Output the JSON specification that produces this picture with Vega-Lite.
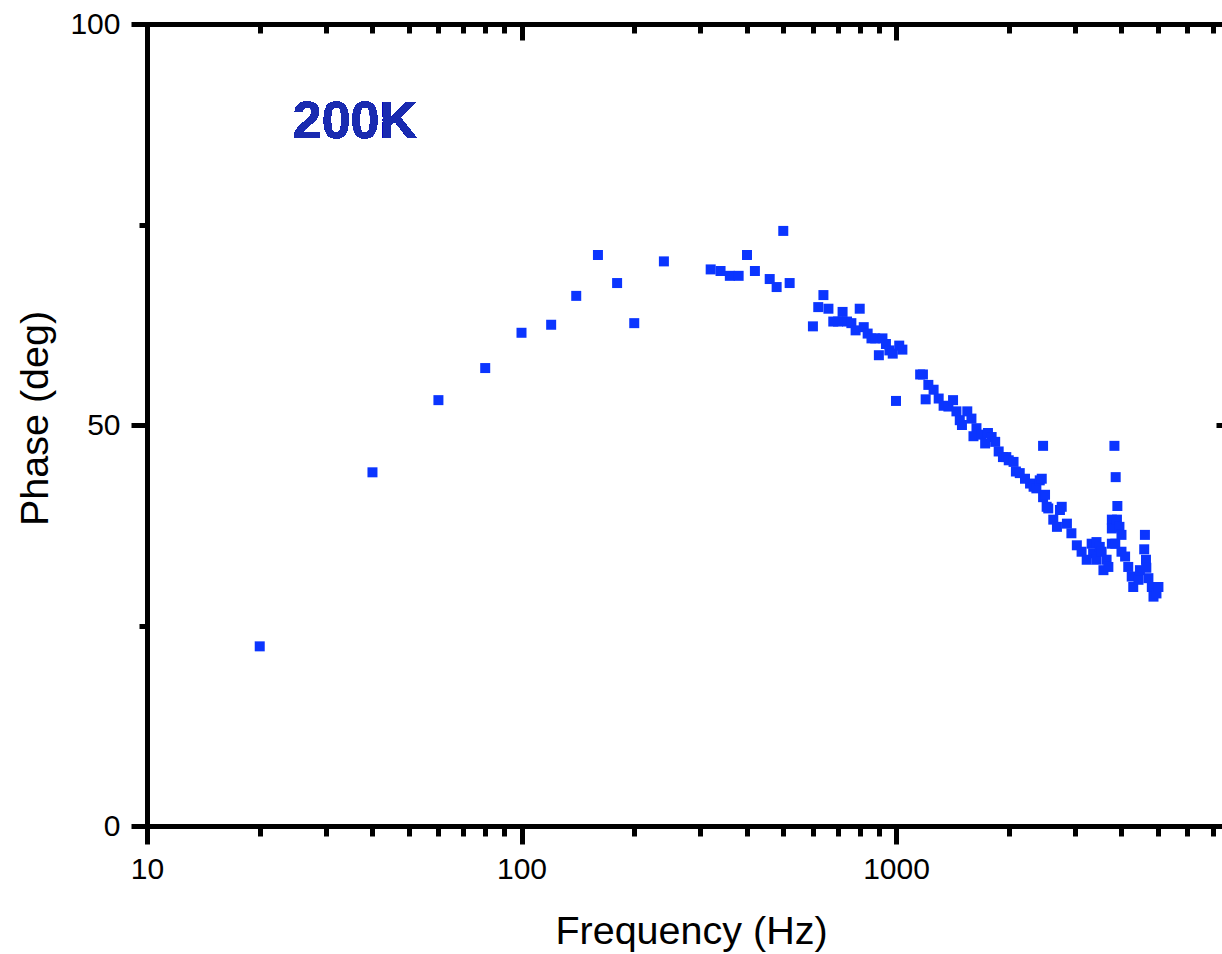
{
  "$schema": "https://vega.github.io/schema/vega-lite/v6.json",
  "autosize": {"type": "none"},
  "padding": {"left": 147, "top": 24, "right": 0, "bottom": 128},
  "width": 1075,
  "height": 802,
  "background": "white",
  "config": {"view": {"stroke": null}, "font": "Liberation Sans"},
  "data": {"values": [
    {"f": 20, "p": 22.4}, {"f": 40, "p": 44.1}, {"f": 60, "p": 53.1}, {"f": 80, "p": 57.1},
    {"f": 100, "p": 61.5}, {"f": 120, "p": 62.5}, {"f": 140, "p": 66.1}, {"f": 160, "p": 71.2},
    {"f": 180, "p": 67.7}, {"f": 200, "p": 62.7}, {"f": 240, "p": 70.4}, {"f": 320, "p": 69.4},
    {"f": 340, "p": 69.2}, {"f": 360, "p": 68.6}, {"f": 380, "p": 68.6}, {"f": 400, "p": 71.2},
    {"f": 420, "p": 69.2}, {"f": 460, "p": 68.2}, {"f": 480, "p": 67.2}, {"f": 500, "p": 74.2},
    {"f": 520, "p": 67.7}, {"f": 600, "p": 62.3}, {"f": 620, "p": 64.7}, {"f": 640, "p": 66.2},
    {"f": 660, "p": 64.5}, {"f": 680, "p": 62.9}, {"f": 700, "p": 62.9}, {"f": 720, "p": 64.1},
    {"f": 740, "p": 62.9}, {"f": 760, "p": 62.7}, {"f": 780, "p": 61.8}, {"f": 800, "p": 64.5},
    {"f": 820, "p": 62.2}, {"f": 840, "p": 61.4}, {"f": 860, "p": 60.8}, {"f": 880, "p": 60.8},
    {"f": 900, "p": 58.7}, {"f": 920, "p": 60.8}, {"f": 940, "p": 60.1}, {"f": 960, "p": 59.3},
    {"f": 980, "p": 58.9}, {"f": 1000, "p": 53.0}, {"f": 1020, "p": 59.9}, {"f": 1040, "p": 59.4},
    {"f": 1160, "p": 56.3}, {"f": 1180, "p": 56.3}, {"f": 1200, "p": 53.2}, {"f": 1220, "p": 55.0},
    {"f": 1260, "p": 54.4}, {"f": 1300, "p": 53.3}, {"f": 1340, "p": 52.4}, {"f": 1380, "p": 52.3},
    {"f": 1420, "p": 53.1}, {"f": 1450, "p": 51.7}, {"f": 1480, "p": 50.6}, {"f": 1500, "p": 50.0},
    {"f": 1550, "p": 51.7}, {"f": 1590, "p": 50.8}, {"f": 1610, "p": 48.6}, {"f": 1640, "p": 49.6},
    {"f": 1690, "p": 48.8}, {"f": 1730, "p": 47.7}, {"f": 1760, "p": 49.0}, {"f": 1800, "p": 48.5},
    {"f": 1840, "p": 47.9}, {"f": 1880, "p": 46.7}, {"f": 1930, "p": 46.0}, {"f": 1970, "p": 46.0},
    {"f": 2000, "p": 45.6}, {"f": 2060, "p": 45.4}, {"f": 2090, "p": 44.2}, {"f": 2140, "p": 44.0},
    {"f": 2210, "p": 43.3}, {"f": 2280, "p": 42.7}, {"f": 2330, "p": 42.3}, {"f": 2370, "p": 42.1},
    {"f": 2420, "p": 43.1}, {"f": 2450, "p": 43.3}, {"f": 2470, "p": 47.4}, {"f": 2470, "p": 41.0},
    {"f": 2500, "p": 41.3}, {"f": 2525, "p": 39.8}, {"f": 2550, "p": 39.6}, {"f": 2630, "p": 38.2},
    {"f": 2690, "p": 37.3}, {"f": 2740, "p": 39.4}, {"f": 2770, "p": 39.8}, {"f": 2860, "p": 37.7},
    {"f": 2940, "p": 36.5}, {"f": 3040, "p": 35.0}, {"f": 3130, "p": 34.2}, {"f": 3230, "p": 33.2},
    {"f": 3330, "p": 35.2}, {"f": 3360, "p": 34.0}, {"f": 3430, "p": 35.4}, {"f": 3430, "p": 33.2},
    {"f": 3500, "p": 34.8}, {"f": 3540, "p": 34.2}, {"f": 3580, "p": 31.9}, {"f": 3650, "p": 33.2},
    {"f": 3690, "p": 32.3}, {"f": 3770, "p": 38.2}, {"f": 3770, "p": 37.1}, {"f": 3770, "p": 35.2},
    {"f": 3830, "p": 47.4}, {"f": 3850, "p": 35.2}, {"f": 3860, "p": 43.5}, {"f": 3890, "p": 38.2},
    {"f": 3900, "p": 39.9}, {"f": 3950, "p": 37.3}, {"f": 4000, "p": 36.3}, {"f": 4000, "p": 34.2},
    {"f": 4090, "p": 33.6}, {"f": 4170, "p": 32.3}, {"f": 4260, "p": 31.1}, {"f": 4300, "p": 29.8},
    {"f": 4440, "p": 30.7}, {"f": 4480, "p": 31.9}, {"f": 4600, "p": 34.5}, {"f": 4620, "p": 36.3},
    {"f": 4650, "p": 33.2}, {"f": 4660, "p": 32.2}, {"f": 4720, "p": 30.9}, {"f": 4820, "p": 29.8},
    {"f": 4870, "p": 28.6}, {"f": 4960, "p": 29.0}, {"f": 5020, "p": 29.8}
  ]},
  "resolve": {"axis": {"x": "independent", "y": "independent"}},
  "layer": [
    {
      "mark": {"type": "point", "shape": "square", "filled": true, "size": 100, "color": "#0b35ff", "opacity": 1, "strokeWidth": 0},
      "encoding": {
        "x": {
          "field": "f", "type": "quantitative",
          "scale": {"type": "log", "domain": [10, 7421], "nice": false, "zero": false},
          "axis": {
            "orient": "bottom",
            "title": "Frequency (Hz)",
            "values": [10, 20, 30, 40, 50, 60, 70, 80, 90, 100, 200, 300, 400, 500, 600, 700, 800, 900, 1000, 2000, 3000, 4000, 5000, 6000, 7000],
            "format": "d",
            "labelExpr": "(datum.value == 10 || datum.value == 100 || datum.value == 1000) ? datum.label : ''",
            "grid": false,
            "domainColor": "black", "domainWidth": 5, "domainCap": "square",
            "tickColor": "black", "tickWidth": 5,
            "tickSize": {"condition": {"test": "datum.value == 10 || datum.value == 100 || datum.value == 1000", "value": 18}, "value": 10},
            "labelFont": "Liberation Sans", "labelFontSize": 30, "labelColor": "black", "labelPadding": 10,
            "labelFlush": false, "labelOverlap": false, "labelBaseline": "top",
            "titleFont": "Liberation Sans", "titleFontSize": 39.5, "titleFontWeight": "normal", "titleColor": "black",
            "titleX": 544, "titleY": 117, "titleBaseline": "alphabetic", "titleAlign": "center"
          }
        },
        "y": {
          "field": "p", "type": "quantitative",
          "scale": {"domain": [0, 100], "nice": false},
          "axis": {
            "orient": "left",
            "title": "Phase (deg)",
            "values": [0, 25, 50, 75, 100],
            "labelExpr": "(datum.value == 0 || datum.value == 50 || datum.value == 100) ? datum.label : ''",
            "grid": false,
            "domainColor": "black", "domainWidth": 5, "domainCap": "square",
            "tickColor": "black", "tickWidth": 5,
            "tickSize": {"condition": {"test": "datum.value == 0 || datum.value == 50 || datum.value == 100", "value": 16}, "value": 8},
            "labelFont": "Liberation Sans", "labelFontSize": 30, "labelColor": "black", "labelPadding": 11,
            "labelFlush": false, "labelOverlap": false,
            "titleFont": "Liberation Sans", "titleFontSize": 39.5, "titleFontWeight": "normal", "titleColor": "black",
            "titleAngle": -90, "titleX": -100, "titleY": 394, "titleBaseline": "alphabetic", "titleAlign": "center"
          }
        }
      }
    },
    {
      "mark": {"type": "text", "text": "200K", "font": "Liberation Sans", "fontSize": 52, "fontWeight": "bold", "color": "#1a2bb0", "align": "left", "baseline": "alphabetic"},
      "encoding": {
        "x": {
          "datum": 24.5, "type": "quantitative",
          "scale": {"type": "log", "domain": [10, 7421], "nice": false, "zero": false},
          "axis": {
            "orient": "top", "title": null, "labels": false, "grid": false,
            "values": [10, 20, 30, 40, 50, 60, 70, 80, 90, 100, 200, 300, 400, 500, 600, 700, 800, 900, 1000, 2000, 3000, 4000, 5000, 6000, 7000],
            "domainColor": "black", "domainWidth": 5, "domainCap": "square",
            "tickColor": "black", "tickWidth": 5,
            "tickSize": {"condition": {"test": "datum.value == 10 || datum.value == 100 || datum.value == 1000", "value": -16}, "value": -9}
          }
        },
        "y": {
          "datum": 85.8, "type": "quantitative",
          "scale": {"domain": [0, 100], "nice": false},
          "axis": {
            "orient": "right", "title": null, "labels": false, "grid": false, "domain": false,
            "values": [50],
            "tickColor": "black", "tickWidth": 5, "tickSize": -6
          }
        }
      }
    }
  ]
}
